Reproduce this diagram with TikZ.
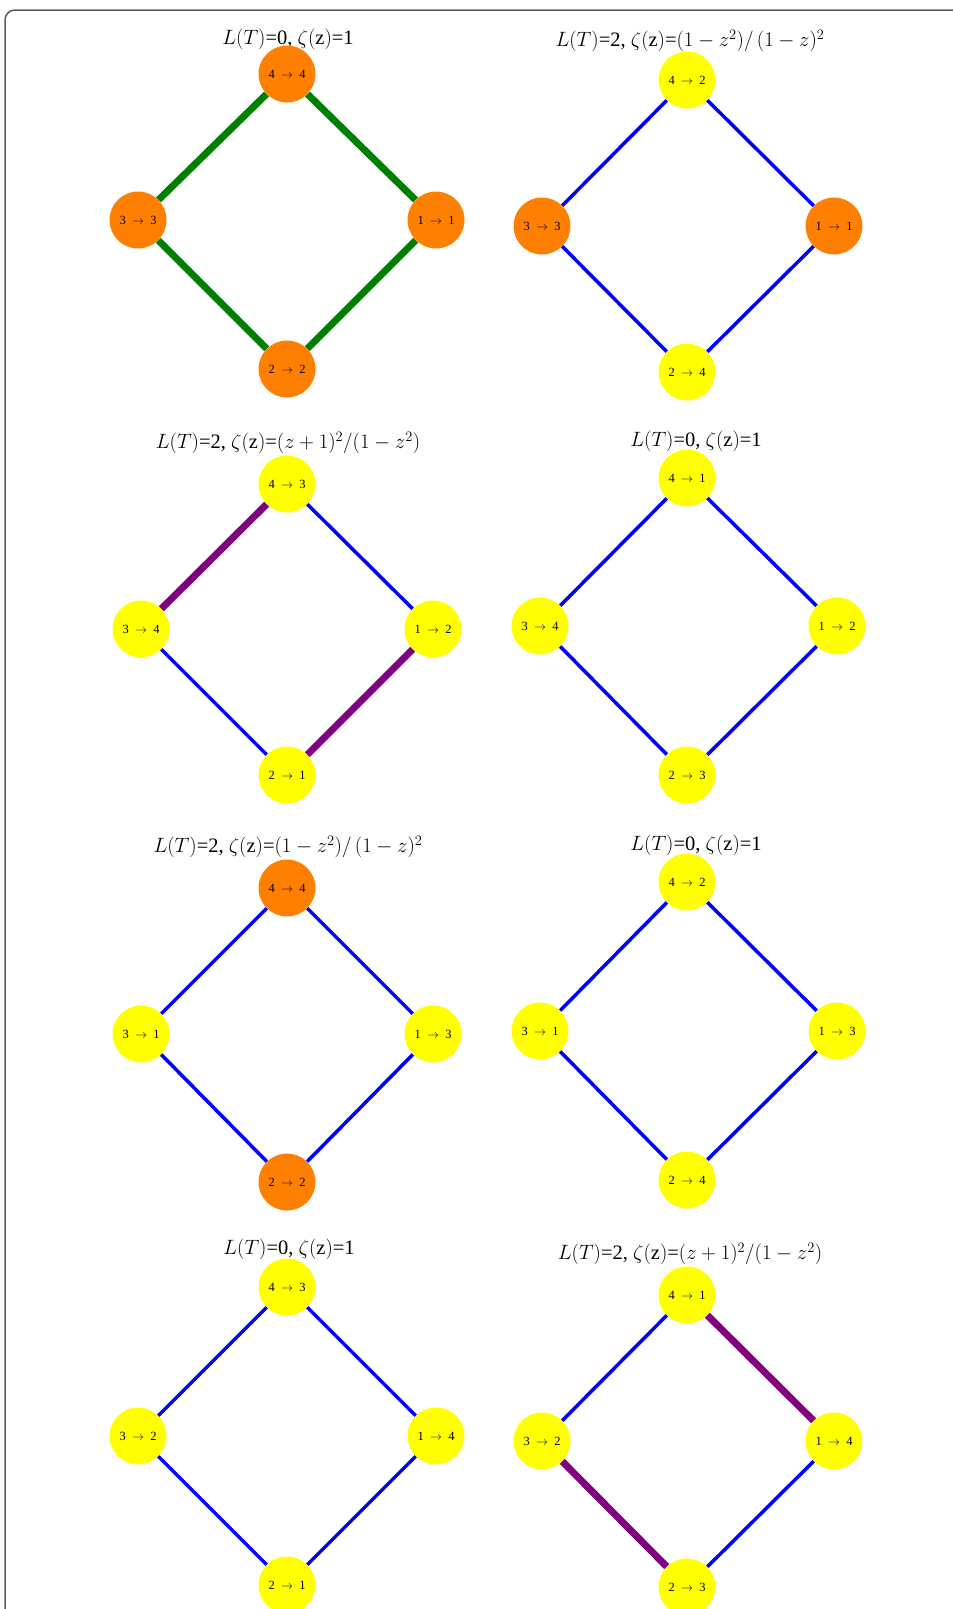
\documentclass[tikz,border=0pt]{standalone}
\usepackage{fontspec}
\setmainfont{Liberation Serif}
\usepackage{tikz}
\usetikzlibrary{calc}

\definecolor{fixorange}{RGB}{255,128,0}
\definecolor{movyellow}{RGB}{255,255,0}
\definecolor{darkgreen}{RGB}{0,128,0}
\definecolor{darkpurple}{RGB}{128,0,128}
\definecolor{framegray}{RGB}{90,90,90}

\newcommand{\mapto}[2]{#1\enspace$\to$\enspace#2}

\begin{document}
\begin{tikzpicture}[x=1pt,y=-1pt,
    vert/.style={circle, minimum size=57pt, inner sep=0pt, font=\fontsize{12.5}{13}\selectfont},
    fixvert/.style={vert, fill=fixorange},
    movvert/.style={vert, fill=movyellow},
    blueedge/.style={blue, line width=3.5pt},
    greenedge/.style={darkgreen, line width=7pt},
    purpleedge/.style={darkpurple, line width=7pt},
    ttl/.style={font=\fontsize{20.5}{22}\selectfont}]
    \useasboundingbox (0,0) rectangle (953,1609);

    % Keret
    \draw[framegray, line width=1.5pt, rounded corners=10pt] (5,1612) -- (5,10) -- (956,10);

    % 1. panel
    \node[ttl] (t1) at (288,39) {$L(T)$=0, $\zeta(\mathrm{z})$=1};
    \node[fixvert] (a1) at (287,74) {\mapto{4}{4}};
    \node[fixvert] (b1) at (138,220) {\mapto{3}{3}};
    \node[fixvert] (c1) at (436,220) {\mapto{1}{1}};
    \node[fixvert] (d1) at (287,369) {\mapto{2}{2}};
    \draw[greenedge] (a1) -- (b1);
    \draw[greenedge] (a1) -- (c1);
    \draw[greenedge] (b1) -- (d1);
    \draw[greenedge] (c1) -- (d1);

    % 2. panel
    \node[ttl] (t2) at (690,41) {$L(T)$=2, $\zeta(\mathrm{z})$=$\Bigl(1-z^2\Bigr)\Big/\,(1-z)^2$};
    \node[movvert] (a2) at (687,80) {\mapto{4}{2}};
    \node[fixvert] (b2) at (542,226) {\mapto{3}{3}};
    \node[fixvert] (c2) at (834,226) {\mapto{1}{1}};
    \node[movvert] (d2) at (687,372) {\mapto{2}{4}};
    \draw[blueedge] (a2) -- (b2);
    \draw[blueedge] (a2) -- (c2);
    \draw[blueedge] (b2) -- (d2);
    \draw[blueedge] (c2) -- (d2);

    % 3. panel
    \node[ttl] (t3) at (288,443) {$L(T)$=2, $\zeta(\mathrm{z})$=$(z+1)^2\Big/\Bigl(1-z^2\Bigr)$};
    \node[movvert] (a3) at (287,484) {\mapto{4}{3}};
    \node[movvert] (b3) at (141,629) {\mapto{3}{4}};
    \node[movvert] (c3) at (433,629) {\mapto{1}{2}};
    \node[movvert] (d3) at (287,775) {\mapto{2}{1}};
    \draw[purpleedge] (a3) -- (b3);
    \draw[blueedge] (a3) -- (c3);
    \draw[blueedge] (b3) -- (d3);
    \draw[purpleedge] (c3) -- (d3);

    % 4. panel
    \node[ttl] (t4) at (696,441) {$L(T)$=0, $\zeta(\mathrm{z})$=1};
    \node[movvert] (a4) at (687,478) {\mapto{4}{1}};
    \node[movvert] (b4) at (540,626) {\mapto{3}{4}};
    \node[movvert] (c4) at (837,626) {\mapto{1}{2}};
    \node[movvert] (d4) at (687,775) {\mapto{2}{3}};
    \draw[blueedge] (a4) -- (b4);
    \draw[blueedge] (a4) -- (c4);
    \draw[blueedge] (b4) -- (d4);
    \draw[blueedge] (c4) -- (d4);

    % 5. panel
    \node[ttl] (t5) at (288,847) {$L(T)$=2, $\zeta(\mathrm{z})$=$\Bigl(1-z^2\Bigr)\Big/\,(1-z)^2$};
    \node[fixvert] (a5) at (287,888) {\mapto{4}{4}};
    \node[movvert] (b5) at (141,1034) {\mapto{3}{1}};
    \node[movvert] (c5) at (433,1034) {\mapto{1}{3}};
    \node[fixvert] (d5) at (287,1182) {\mapto{2}{2}};
    \draw[blueedge] (a5) -- (b5);
    \draw[blueedge] (a5) -- (c5);
    \draw[blueedge] (b5) -- (d5);
    \draw[blueedge] (c5) -- (d5);

    % 6. panel
    \node[ttl] (t6) at (696,845) {$L(T)$=0, $\zeta(\mathrm{z})$=1};
    \node[movvert] (a6) at (687,882) {\mapto{4}{2}};
    \node[movvert] (b6) at (540,1031) {\mapto{3}{1}};
    \node[movvert] (c6) at (837,1031) {\mapto{1}{3}};
    \node[movvert] (d6) at (687,1180) {\mapto{2}{4}};
    \draw[blueedge] (a6) -- (b6);
    \draw[blueedge] (a6) -- (c6);
    \draw[blueedge] (b6) -- (d6);
    \draw[blueedge] (c6) -- (d6);

    % 7. panel
    \node[ttl] (t7) at (289,1249) {$L(T)$=0, $\zeta(\mathrm{z})$=1};
    \node[movvert] (a7) at (287,1287) {\mapto{4}{3}};
    \node[movvert] (b7) at (138,1436) {\mapto{3}{2}};
    \node[movvert] (c7) at (436,1436) {\mapto{1}{4}};
    \node[movvert] (d7) at (287,1585) {\mapto{2}{1}};
    \draw[blueedge] (a7) -- (b7);
    \draw[blueedge] (a7) -- (c7);
    \draw[blueedge] (b7) -- (d7);
    \draw[blueedge] (c7) -- (d7);

    % 8. panel
    \node[ttl] (t8) at (690,1254) {$L(T)$=2, $\zeta(\mathrm{z})$=$(z+1)^2\Big/\Bigl(1-z^2\Bigr)$};
    \node[movvert] (a8) at (687,1295) {\mapto{4}{1}};
    \node[movvert] (b8) at (542,1441) {\mapto{3}{2}};
    \node[movvert] (c8) at (834,1441) {\mapto{1}{4}};
    \node[movvert] (d8) at (687,1587) {\mapto{2}{3}};
    \draw[blueedge] (a8) -- (b8);
    \draw[purpleedge] (a8) -- (c8);
    \draw[purpleedge] (b8) -- (d8);
    \draw[blueedge] (c8) -- (d8);
\end{tikzpicture}
\end{document}
